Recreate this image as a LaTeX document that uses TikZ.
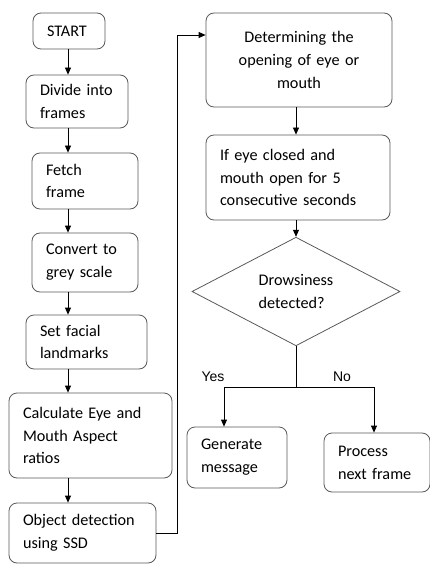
\documentclass[tikz,border=0pt]{standalone}
\usepackage{fontspec}
\setmainfont{Carlito}
\newfontfamily\labelfont{Liberation Sans}
\usetikzlibrary{arrows.meta,positioning,shapes.geometric}
\tikzset{
  >={Triangle[width=6pt,length=7pt]},
  line/.style={line width=0.8pt},
  flow/.style={line,->},
  box/.style={draw=black!65,line width=0.8pt,rounded corners=8pt,align=left,
    inner xsep=14pt,inner ysep=2pt,font=\fontsize{16.2}{22.8}\selectfont},
  decision/.style={diamond,draw=black!65,line width=0.8pt,inner sep=0pt,align=left,
    font=\fontsize{16.2}{22.8}\selectfont},
  note/.style={font=\labelfont\fontsize{14}{16}\selectfont}
}
\begin{document}
\begin{tikzpicture}[x=1pt,y=-1pt]
  \useasboundingbox (0,0) rectangle (430,564);

  % Left column
  \node[box,text width=44pt,minimum height=36pt]  (start)    at (69,31)    {START};
  \node[box,text width=74pt,minimum height=53pt]  (divide)   at (77,101.5) {Divide into\\frames};
  \node[box,text width=78pt,minimum height=56pt]  (fetch)    at (85,181)   {Fetch\\frame};
  \node[box,text width=78pt,minimum height=59pt]  (grey)     at (85,262.5) {Convert to\\grey scale};
  \node[box,text width=93pt,minimum height=54pt]  (landmark) at (86.5,342) {Set facial\\landmarks};
  \node[box,text width=135pt,minimum height=85pt] (ratio)    at (90.5,435.5) {Calculate Eye and\\Mouth Aspect\\ratios};
  \node[box,text width=119pt,minimum height=60pt] (ssd)      at (82.5,533) {Object detection\\using SSD};
  \coordinate (axis) at (68,0);

  \foreach \a/\b in {start/divide,divide/fetch,fetch/grey,grey/landmark,landmark/ratio,ratio/ssd}{
    \draw[flow] (\a.south -| axis) -- (\b.north -| axis);
  }

  % Right column
  \node[box,align=center,text width=158pt,minimum height=94pt] (opening) at (299,60)
    {Determining the\\opening of eye or\\mouth};
  \node[box,text width=156pt,minimum height=85pt] (closed) at (298,177.5)
    {If eye closed and\\mouth open for 5\\consecutive seconds};
  \node[decision,minimum width=208pt,minimum height=105pt] (drowsy) at (296,291.5)
    {Drowsiness\\detected?};
  \node[box,text width=72pt,minimum height=61pt] (alert) at (237,457.5) {Generate\\message};
  \node[box,text width=78pt,minimum height=59pt] (next)  at (377,462.5) {Process\\next frame};

  % Loop over to the right column
  \coordinate (jog) at (177,35);
  \draw[flow] (ssd.east) -| (jog) -- (jog -| opening.west);

  \draw[flow] (opening.south -| drowsy.north) -- (closed.north -| drowsy.north);
  \draw[flow] (closed.south -| drowsy.north) -- (drowsy.north);

  % Yes / No branches
  \coordinate (split) at (296,387);
  \coordinate (yes) at (224,387);
  \coordinate (no)  at (374,387);
  \draw[line] (drowsy.south) -- (split);
  \draw[line] (yes) -- (no);
  \draw[flow] (yes) -- (yes |- alert.north);
  \draw[flow] (no) -- (no |- next.north);
  \node[note] (yeslabel) at (213,377) {Yes};
  \node[note] (nolabel)  at (342,377) {No};
\end{tikzpicture}
\end{document}
